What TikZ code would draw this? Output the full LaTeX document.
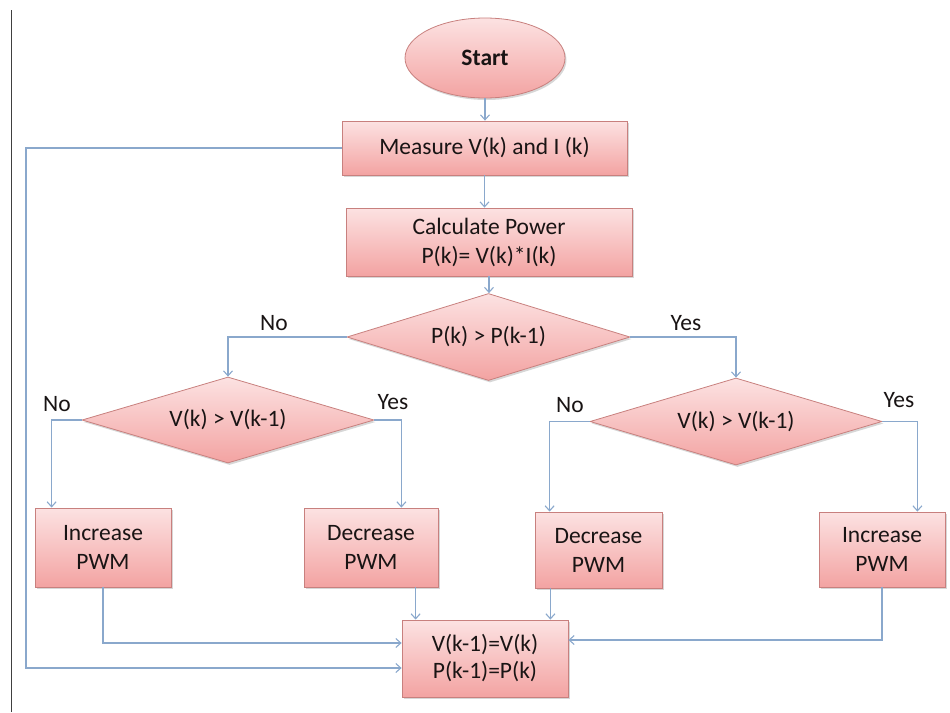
\documentclass[tikz,border=0pt]{standalone}
\usepackage{fontspec}
\setmainfont{Carlito}
\usetikzlibrary{shapes.geometric,arrows.meta,calc,shadows}
\definecolor{fillTop}{RGB}{252,226,226}
\definecolor{fillBot}{RGB}{243,163,162}
\definecolor{edgeCol}{RGB}{200,128,126}
\definecolor{lineCol}{RGB}{138,168,204}
\definecolor{txtCol}{RGB}{25,20,20}
\tikzset{
  shp/.style={draw=edgeCol, line width=0.8pt, top color=fillTop, bottom color=fillBot,
    drop shadow={shadow xshift=1.5pt, shadow yshift=-2pt, fill=black!45, opacity=0.35},
    text=txtCol, align=center, inner sep=0pt,
    font=\fontsize{23.5}{29}\selectfont},
  procbox/.style={shp, rectangle},
  decbox/.style={shp, diamond, aspect=3.3},
  startbox/.style={shp, ellipse},
  arr/.style={draw=lineCol, line width=1.1pt, -{Straight Barb[length=5pt,width=9pt]}},
  lbl/.style={text=txtCol, font=\fontsize{23.5}{29}\selectfont, inner sep=0pt}
}
\begin{document}
\begin{tikzpicture}[x=1pt,y=-1pt]
\useasboundingbox (0,0) rectangle (950,712);
\draw[black!75, line width=0.9pt] (11,10) -- (11,712);

\node[startbox, minimum width=160pt, minimum height=80pt] (start) at (485,58) {\textbf{Start}};
\node[procbox, minimum width=285pt, minimum height=54pt] (meas) at (484.5,148) {Measure V(k) and I (k)};
\node[procbox, minimum width=286pt, minimum height=68pt] (calc) at (489,242) {Calculate Power\\P(k)= V(k)*I(k)};
\node[decbox, minimum width=283pt, minimum height=87pt] (d1) at (488.5,337) {P(k) > P(k-1)};
\node[decbox, minimum width=292pt, minimum height=86pt] (d2) at (228,420) {V(k) > V(k-1)};
\node[decbox, minimum width=292pt, minimum height=87pt] (d3) at (736,421.5) {V(k) > V(k-1)};
\node[procbox, minimum width=136pt, minimum height=79pt] (b1) at (103,547.5) {Increase\\PWM};
\node[procbox, minimum width=134pt, minimum height=79pt] (b2) at (371,547.5) {Decrease\\PWM};
\node[procbox, minimum width=127pt, minimum height=76pt] (b3) at (598.5,550) {Decrease\\PWM};
\node[procbox, minimum width=126pt, minimum height=75pt] (b4) at (882,549.5) {Increase\\PWM};
\node[procbox, minimum width=166pt, minimum height=77pt, font=\fontsize{23.5}{27}\selectfont] (fin) at (485,658.5) {V(k-1)=V(k)\\P(k-1)=P(k)};

% labels
\node[lbl] (l1) at (274,323) {No};
\node[lbl] (l2) at (686,323) {Yes};
\node[lbl] (l3) at (57,404) {No};
\node[lbl] (l4) at (393,402) {Yes};
\node[lbl] (l5) at (570,405) {No};
\node[lbl] (l6) at (899,400) {Yes};

% entry points
\coordinate (e1) at ($(b1.north west)+(17,0)$);
\coordinate (e2) at ($(b2.north east)+(-37,0)$);
\coordinate (e3) at ($(b3.north west)+(15,0)$);
\coordinate (e4) at ($(b4.north east)+(-28,0)$);
\coordinate (f2) at ($(fin.north west)+(14,0)$);
\coordinate (f3) at ($(fin.north east)+(-18,0)$);
\coordinate (lp) at (26,0);

\draw[arr] (start.south) -- (start.south |- meas.north);
\draw[arr] (meas.south) -- (meas.south |- calc.north);
\draw[arr] (calc.south) -- (calc.south |- d1.north);
\draw[arr] (d1.west) -| (d2.north);
\draw[arr] (d1.east) -| (d3.north);
\draw[arr] (d2.west) -| (e1);
\draw[arr] (d2.east) -| (e2);
\draw[arr] (d3.west) -| (e3);
\draw[arr] (d3.east) -| (e4);
\draw[arr] (b1.south) |- ($(fin.west)+(0,-15.5)$);
\draw[arr] (b2.south -| f2) -- (f2);
\draw[arr] (b3.south -| f3) -- (f3);
\draw[arr] (b4.south) |- ($(fin.east)+(0,-18.5)$);
\draw[arr] (meas.west) -- (meas.west -| lp) |- ($(fin.west)+(0,9.5)$);
\end{tikzpicture}
\end{document}
